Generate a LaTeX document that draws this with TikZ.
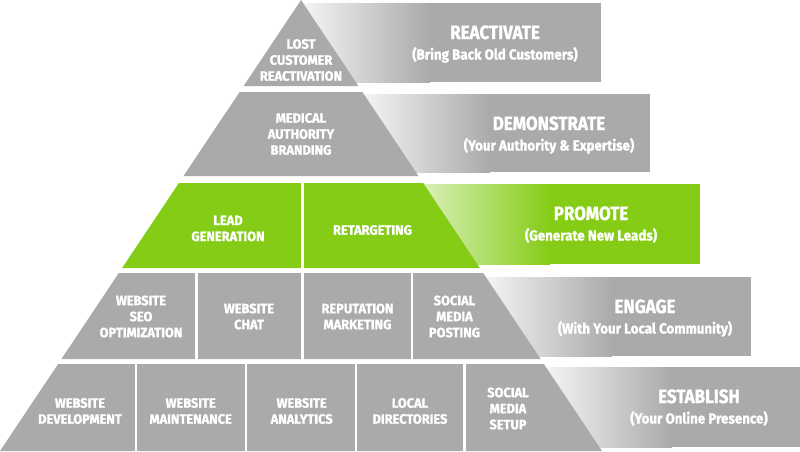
\documentclass[tikz,border=0pt]{standalone}
\usepackage{fontspec}
\setmainfont{Fira Sans}[FakeStretch=0.88]
\newfontfamily\ttlfont{Fira Sans}[FakeStretch=0.88,BoldFeatures={FakeBold=1.2}]
\newfontfamily\subfont{Fira Sans}[FakeStretch=0.92,BoldFeatures={FakeBold=1.2}]
\newfontfamily\labfont{Fira Sans}[FakeStretch=0.95,BoldFeatures={FakeBold=1.2}]
\definecolor{pgray}{HTML}{AAAAAA}
\definecolor{pgreen}{HTML}{84CC16}
\begin{document}
\begin{tikzpicture}[x=1pt,y=-1pt,
  lab/.style={text=white,font=\labfont\bfseries\fontsize{13.5}{16}\selectfont,align=center,inner sep=0pt},
  ttl/.style={text=white,font=\ttlfont\bfseries\fontsize{19.3}{22}\selectfont,inner sep=0pt,anchor=base},
  subt/.style={text=white,font=\subfont\bfseries\fontsize{14.5}{17}\selectfont,inner sep=0pt,anchor=base},
  divider/.style={white,line width=2.6pt}]
\useasboundingbox (0,0) rectangle (800,451);
% ---- bands (behind pyramid) ----
\shade[left color=pgray!12!white,right color=pgray] (302,3) rectangle (430,82);
\fill[pgray] (429.5,3) rectangle (601,82);
\shade[left color=pgray!12!white,right color=pgray] (362.7,94) rectangle (490,172);
\fill[pgray] (489.5,94) rectangle (650,172);
\shade[left color=pgreen!30!white,right color=pgreen] (422.8,184) rectangle (550,264);
\fill[pgreen] (549.5,184) rectangle (700,264);
\shade[left color=pgray!12!white,right color=pgray] (484.9,277) rectangle (612,356);
\fill[pgray] (611.5,277) rectangle (751,356);
\shade[left color=pgray!12!white,right color=pgray] (545.1,367) rectangle (672,447);
\fill[pgray] (671.5,367) rectangle (800,447);
% ---- pyramid rows ----
\fill[pgray] (301,0) -- (358.4,86) -- (243.6,86) -- cycle;
\fill[pgray] (239.6,92) -- (362.4,92) -- (418.5,176) -- (183.5,176) -- cycle;
\fill[pgreen] (178.9,183) -- (423.1,183) -- (479.9,268) -- (122.1,268) -- cycle;
\fill[pgray] (118.8,273) -- (483.2,273) -- (540.6,359) -- (61.4,359) -- cycle;
\fill[pgray] (58.1,364) -- (543.9,364) -- (602,451) -- (0,451) -- cycle;
% ---- cell dividers ----
\draw[divider] (302.3,182) -- (302.3,269);
\draw[divider] (196.3,272) -- (196.3,360);
\draw[divider] (302.3,272) -- (302.3,360);
\draw[divider] (411.8,272) -- (411.8,360);
\draw[divider] (136,363) -- (136,452);
\draw[divider] (245.8,363) -- (245.8,452);
\draw[divider] (355.8,363) -- (355.8,452);
\draw[divider] (464.2,363) -- (464.2,452);
% ---- pyramid labels ----
\node[lab] (lost) at (301,60) {LOST\\CUSTOMER\\REACTIVATION};
\node[lab] (med) at (301,134) {MEDICAL\\AUTHORITY\\BRANDING};
\node[lab] (lead) at (228,228.5) {LEAD\\GENERATION};
\node[lab] (ret) at (372.5,230) {RETARGETING};
\node[lab] (seo) at (141,316.5) {WEBSITE\\SEO\\OPTIMIZATION};
\node[lab] (chat) at (249,316.5) {WEBSITE\\CHAT};
\node[lab] (rep) at (357.5,316.5) {REPUTATION\\MARKETING};
\node[lab] (post) at (454.5,316.5) {SOCIAL\\MEDIA\\POSTING};
\node[lab] (dev) at (80,411) {WEBSITE\\DEVELOPMENT};
\node[lab] (maint) at (190.7,411) {WEBSITE\\MAINTENANCE};
\node[lab] (anal) at (301.7,411) {WEBSITE\\ANALYTICS};
\node[lab] (dir) at (410,411) {LOCAL\\DIRECTORIES};
\node[lab] (setup) at (508,408.5) {SOCIAL\\MEDIA\\SETUP};
% ---- band labels ----
\node[ttl] (t1) at (495,39) {REACTIVATE};
\node[subt] (s1) at (495,59.5) {(Bring Back Old Customers)};
\node[ttl] (t2) at (549,130) {DEMONSTRATE};
\node[subt] (s2) at (549,150.5) {(Your Authority \& Expertise)};
\node[ttl] (t3) at (591,220) {PROMOTE};
\node[subt] (s3) at (591,240.5) {(Generate New Leads)};
\node[ttl] (t4) at (645,313) {ENGAGE};
\node[subt] (s4) at (645,333.5) {(With Your Local Community)};
\node[ttl] (t5) at (699,403) {ESTABLISH};
\node[subt] (s5) at (699,423.5) {(Your Online Presence)};
\end{tikzpicture}
\end{document}
